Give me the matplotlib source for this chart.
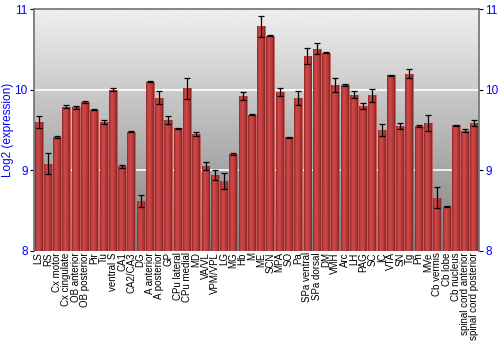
import numpy as np
import matplotlib
matplotlib.use("Agg")
import matplotlib.pyplot as plt
from matplotlib.colors import LinearSegmentedColormap

plt.rcParams['font.family'] = ['Liberation Sans', 'DejaVu Sans']

regions = ["LS", "RS", "Cx motor", "Cx cingulate", "OB anterior", "OB posterior",
           "Pir", "Tu", "ventral S", "CA1", "CA2/CA3", "DG", "A anterior",
           "A posterior", "GP", "CPu lateral", "CPu medial", "MD", "VA/VL",
           "VPM/VPL", "LG", "MG", "Hb", "M", "ME", "SCN", "MPA", "SO", "Pa",
           "SPa ventral", "SPa dorsal", "DM", "VMH", "Arc", "LH", "PAG", "SC",
           "IC", "VTA", "SN", "Tg", "Pn", "MVe", "Cb vermis", "Cb lobe",
           "Cb nucleus", "spinal cord anterior", "spinal cord posterior"]

expr = [9.60, 9.08, 9.41, 9.79, 9.78, 9.85, 9.75, 9.60, 10.00, 9.05, 9.48, 8.62,
        10.10, 9.90, 9.63, 9.52, 10.02, 9.45, 9.05, 8.94, 8.87, 9.20, 9.92, 9.69,
        10.79, 10.67, 9.97, 9.41, 9.90, 10.42, 10.51, 10.46, 10.06, 10.06, 9.94,
        9.80, 9.93, 9.50, 10.18, 9.55, 10.20, 9.55, 9.59, 8.66, 8.55, 9.56,
        9.49, 9.59]

err = [0.07, 0.13, 0.01, 0.02, 0.015, 0.01, 0.005, 0.03, 0.02, 0.02, 0.003, 0.08,
       0.005, 0.08, 0.05, 0.005, 0.13, 0.03, 0.05, 0.06, 0.10, 0.01, 0.05, 0.005,
       0.13, 0.005, 0.05, 0.005, 0.09, 0.10, 0.07, 0.005, 0.09, 0.01, 0.04,
       0.04, 0.08, 0.08, 0.005, 0.035, 0.06, 0.015, 0.10, 0.13, 0.01, 0.005,
       0.02, 0.04]

blue = "#0000ff"

fig = plt.figure(figsize=(5, 3.5), dpi=100)
ax = fig.add_axes([0.068, 0.283, 0.89, 0.691])

x = np.arange(len(regions))
ax.set_xlim(-0.5, len(regions) - 0.5)
ax.set_ylim(8, 11)

# gray gradient background, light at top, darker at bottom
bg = np.linspace(0.94, 0.50, 256).reshape(-1, 1)
ax.imshow(bg, cmap="gray", vmin=0, vmax=1, aspect="auto", origin="upper",
          extent=[-0.5, len(regions) - 0.5, 8, 11], zorder=0)

for yv in [9, 10]:
    ax.axhline(yv, color="white", lw=1.2, zorder=1)

bars = ax.bar(x, np.array(expr) - 8, bottom=8, width=0.86, color="#b03030",
              edgecolor="#c86060", linewidth=0.6, zorder=2)

# cylinder-like shading for each bar
shade = np.array([[0.55, 0.8, 0.95, 0.9, 0.8, 0.65, 0.45]])
cm = LinearSegmentedColormap.from_list("redshade", ["#5a0d0d", "#d44a4a"])
for b in bars:
    im = ax.imshow(shade, cmap=cm, vmin=0, vmax=1, aspect="auto",
                   extent=[b.get_x(), b.get_x() + b.get_width(), 8, 8 + b.get_height()],
                   zorder=3)
    im.set_clip_path(b)

ax.errorbar(x, expr, yerr=err, fmt="none", ecolor="black", elinewidth=0.9,
            capsize=2, capthick=0.9, zorder=4)

ax.set_xticks(x)
ax.set_xticklabels(regions, rotation=90, fontsize=7)
ax.tick_params(axis="x", length=0, pad=1)
ax.set_yticks([8, 9, 10, 11])
ax.tick_params(axis="y", colors="black", labelcolor=blue, labelsize=8.5,
               length=3, pad=1.5, right=True, labelright=True, left=True)
ax.set_ylabel("Log2 (expression)", color=blue, fontsize=8.5)
ax.yaxis.set_label_coords(-0.045, 0.5)

for s in ["left", "top", "right"]:
    ax.spines[s].set_color("#707070")
    ax.spines[s].set_linewidth(1.2)
ax.spines["bottom"].set_visible(False)

fig.savefig("out.png", dpi=100)
